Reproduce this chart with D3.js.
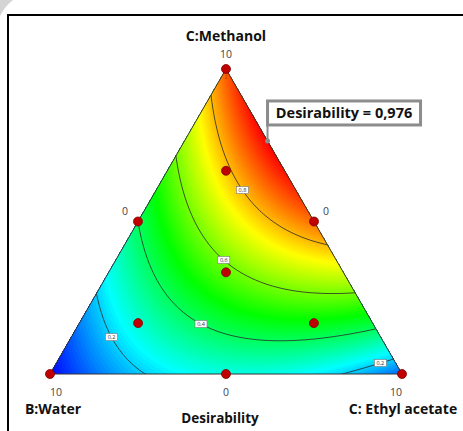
<!DOCTYPE html>
<html>
<head>
<meta charset="utf-8">
<script src="https://cdn.jsdelivr.net/npm/d3@7"></script>
<style>
body { margin: 0; background: #fff; }
svg { display: block; font-family: "Open Sans", sans-serif; }
</style>
</head>
<body>
<svg id="chart" width="463" height="431"></svg>
<script>
// Scheffe special cubic model for desirability (A=Methanol, B=Water, C=Ethyl acetate)
const modelTerms = ["A", "B", "C", "AB", "AC", "BC", "ABC"];
const modelCoefs = [0.89, 0.00, 0.09, -0.18, 1.52, 0.89, 0.00];

// design points, amounts of (Methanol, Water, Ethyl acetate), total 10
const designPoints = [
    [10, 0, 0], [0, 10, 0], [0, 0, 10],
    [5, 5, 0], [5, 0, 5], [0, 5, 5],
    [3.33, 3.33, 3.33],
    [6.67, 1.67, 1.67], [1.67, 6.67, 1.67], [1.67, 1.67, 6.67]
];
const optimumPoint = [7.64, 0, 2.36];
const optimumValue = 0.976;

const contourLevels = [0.2, 0.4, 0.6, 0.8];
// contour labels: level, methanol amount where the label sits, side scanned from
const contourLabels = [
    [0.8, 6.03, "left"],
    [0.6, 3.74, "left"],
    [0.4, 1.64, "left"],
    [0.2, 1.21, "left"],
    [0.2, 0.36, "right"]
];

const vertexNames = ["C:Methanol", "B:Water", "C: Ethyl acetate"];
const vertexTicks = ["10", "10", "10"];
const sideTicks = ["0", "0", "0"];   // Ethyl acetate = 0, Water = 0, Methanol = 0
const legendTitle = "Desirability";

const total = 10;
const svg = d3.select("#chart");

// triangle geometry
const vTop = [226, 69], vLeft = [50, 374], vRight = [402, 374];
const yScale = d3.scaleLinear().domain([0, total]).range([vLeft[1], vTop[1]]);

function project(a, b, c) {
    const s = a + b + c;
    return [(a * vTop[0] + b * vLeft[0] + c * vRight[0]) / s,
            (a * vTop[1] + b * vLeft[1] + c * vRight[1]) / s];
}
function invert(px, py) {
    const a = yScale.invert(py) / total;
    const c = (px - vLeft[0] - a * (vTop[0] - vLeft[0])) / (vRight[0] - vLeft[0]);
    return [a, 1 - a - c, c];
}
function desirability(a, b, c) {
    const x = [a, b, c, a * b, a * c, b * c, a * b * c];
    return d3.sum(modelCoefs, (k, i) => k * x[i]);
}

const color = d3.scaleLinear()
    .domain(d3.range(5).map(i => i * optimumValue / 4))
    .range(["#0000ff", "#00ffff", "#00ff00", "#ffff00", "#ff0000"])
    .clamp(true);

// frame and page corner
svg.append("path").attr("d", "M0,0 L13,0 Q5,6 0,16 Z").attr("fill", "#d4d4d4");
svg.append("path").attr("d", "M8,431 L8,15 L463,15")
    .attr("fill", "none").attr("stroke", "#000").attr("stroke-width", 2);

// grid of model values
const step = 2, x0 = vLeft[0] - 4, y0 = vTop[1] - 4;
const nx = Math.ceil((vRight[0] - vLeft[0] + 8) / step), ny = Math.ceil((vLeft[1] - vTop[1] + 8) / step);
const values = new Array(nx * ny);
for (let j = 0; j < ny; j++) {
    for (let i = 0; i < nx; i++) {
        const [a, b, c] = invert(x0 + (i + 0.5) * step, y0 + (j + 0.5) * step);
        values[j * nx + i] = desirability(a, b, c);
    }
}
const gridPath = d3.geoPath(d3.geoTransform({
    point: function(x, y) { this.stream.point(x0 + x * step, y0 + y * step); }
}));

const triPath = `M${vTop}L${vLeft}L${vRight}Z`;
svg.append("clipPath").attr("id", "tri").append("path").attr("d", triPath);

const plot = svg.append("g").attr("clip-path", "url(#tri)");
const bands = d3.range(-0.2, 1.2, 0.01);
plot.append("g").selectAll("path")
    .data(d3.contours().size([nx, ny]).thresholds(bands)(values))
    .join("path")
    .attr("d", gridPath)
    .attr("fill", d => color(d.value + 0.005));

plot.append("g").selectAll("path")
    .data(d3.contours().size([nx, ny]).thresholds(contourLevels)(values))
    .join("path")
    .attr("d", gridPath)
    .attr("fill", "none")
    .attr("stroke", "#2a2a2a")
    .attr("stroke-width", 0.8);

svg.append("path").attr("d", triPath)
    .attr("fill", "none").attr("stroke", "#333").attr("stroke-width", 1);

// contour labels: find crossing along a line of constant methanol
const fmt = v => d3.format(".1f")(v).replace(".", ",");
contourLabels.forEach(([level, meth, side]) => {
    const a = meth / total, n = 400;
    let prev = null, found = null;
    for (let k = 0; k <= n; k++) {
        const t = side === "left" ? k / n : 1 - k / n;
        const c = (1 - a) * t, v = desirability(a, 1 - a - c, c) - level;
        if (prev !== null && Math.sign(v) !== Math.sign(prev)) { found = c; break; }
        prev = v;
    }
    if (found === null) return;
    const [px, py] = project(a, 1 - a - found, found);
    const g = svg.append("g").attr("transform", `translate(${px},${py})`);
    g.append("rect").attr("x", -6).attr("y", -3.5).attr("width", 12).attr("height", 7)
        .attr("fill", "#fff").attr("stroke", "#777").attr("stroke-width", 0.6);
    g.append("text").attr("text-anchor", "middle").attr("y", 2)
        .attr("font-size", 5.5).attr("fill", "#333").text(fmt(level));
});

// design points
svg.append("g").selectAll("circle")
    .data(designPoints)
    .join("circle")
    .attr("cx", d => project(...d)[0])
    .attr("cy", d => project(...d)[1])
    .attr("r", 4.5)
    .attr("fill", "#c00000")
    .attr("stroke", "#800000")
    .attr("stroke-width", 0.8);
svg.append("text").attr("x", project(...designPoints[0])[0]).attr("y", project(...designPoints[0])[1] + 10)
    .attr("text-anchor", "middle").attr("font-size", 6).attr("fill", "#c04000").text("2");

// optimum flag
const [ox, oy] = project(...optimumPoint);
svg.append("line").attr("x1", ox).attr("y1", oy).attr("x2", ox).attr("y2", oy - 16)
    .attr("stroke", "#8c8c8c").attr("stroke-width", 2);
svg.append("circle").attr("cx", ox).attr("cy", oy).attr("r", 2.5).attr("fill", "#8c8c8c");
svg.append("rect").attr("x", ox).attr("y", oy - 40).attr("width", 153).attr("height", 24)
    .attr("fill", "#fff").attr("stroke", "#8c8c8c").attr("stroke-width", 3);
svg.append("text").attr("x", ox + 76.5).attr("y", oy - 22.5)
    .attr("text-anchor", "middle").attr("font-size", 14.5).attr("font-weight", "bold")
    .attr("fill", "#111").text(`Desirability = ${d3.format(".3f")(optimumValue).replace(".", ",")}`);

// tick labels at vertices and opposite sides
const tickStyle = s => s.attr("font-size", 10.5).attr("fill", "#444").attr("text-anchor", "middle");
svg.append("text").attr("x", vTop[0]).attr("y", vTop[1] - 11).call(tickStyle).text(vertexTicks[0]);
svg.append("text").attr("x", vLeft[0] + 6).attr("y", vLeft[1] + 22).call(tickStyle).text(vertexTicks[1]);
svg.append("text").attr("x", vRight[0] - 6).attr("y", vRight[1] + 22).call(tickStyle).text(vertexTicks[2]);
const midL = project(5, 5, 0), midR = project(5, 0, 5), midB = project(0, 5, 5);
svg.append("text").attr("x", midL[0] - 13).attr("y", midL[1] - 7).call(tickStyle).text(sideTicks[0]);
svg.append("text").attr("x", midR[0] + 12).attr("y", midR[1] - 7).call(tickStyle).text(sideTicks[1]);
svg.append("text").attr("x", midB[0]).attr("y", midB[1] + 22).call(tickStyle).text(sideTicks[2]);

// component names and title
const nameStyle = s => s.attr("font-size", 14).attr("font-weight", "bold").attr("fill", "#111").attr("text-anchor", "middle");
svg.append("text").attr("x", vTop[0]).attr("y", 41).call(nameStyle).text(vertexNames[0]);
svg.append("text").attr("x", vLeft[0] + 3).attr("y", 414).call(nameStyle).text(vertexNames[1]);
svg.append("text").attr("x", vRight[0] + 1).attr("y", 414).call(nameStyle).text(vertexNames[2]);
svg.append("text").attr("x", 220).attr("y", 423).call(nameStyle).attr("font-size", 13.5).text(legendTitle);
</script>
</body>
</html>
